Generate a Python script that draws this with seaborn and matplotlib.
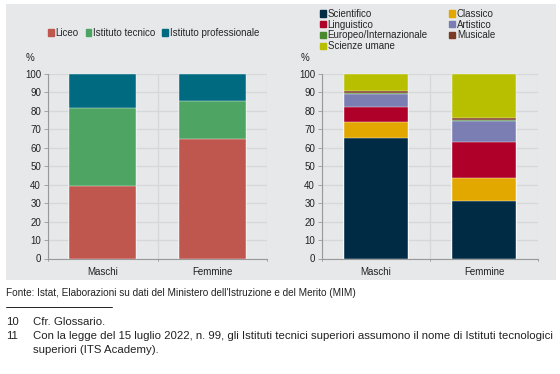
import matplotlib
matplotlib.use('Agg')
import matplotlib.pyplot as plt
import matplotlib.patches as mpatches
from matplotlib.lines import Line2D
import pandas as pd
import seaborn as sns

# data (percent)
genere = ['Maschi', 'Femmine']

tipi_scuola = ['Liceo', 'Istituto tecnico', 'Istituto professionale']
liceo = [39.5, 64.5]
tecnico = [42.3, 20.8]
professionale = [18.2, 14.7]

indirizzi = ['Scientifico', 'Classico', 'Linguistico', 'Artistico',
             'Europeo/Internazionale', 'Musicale', 'Scienze umane']
scientifico = [65.5, 30.9]
classico = [8.6, 12.7]
linguistico = [8.2, 19.6]
artistico = [6.6, 11.1]
europeo = [0.9, 0.9]
musicale = [1.1, 1.1]
scienze_umane = [9.1, 23.7]

col_sx = ['#c0574f', '#4ea462', '#006a80']
col_dx = ['#002b45', '#e3a800', '#ae0028', '#7a7eb2', '#4a8a2e', '#7b3a22', '#b7bf00']

sns.set_style('white')
plt.rcParams['font.family'] = ['Liberation Sans', 'DejaVu Sans']
plt.rcParams['font.size'] = 7

BG = '#e7e8e9'
GRID = '#d6d7d8'

fig = plt.figure(figsize=(5.6, 3.74), dpi=100)
fig.patch.set_facecolor('white')
fig.patches.append(mpatches.Rectangle((6 / 560, 1 - 280 / 374), 550 / 560, 276 / 374,
                                      transform=fig.transFigure, facecolor=BG,
                                      edgecolor='none', zorder=-5))

ax1 = fig.add_axes([48 / 560, 1 - 258.5 / 374, 219 / 560, 184.5 / 374])
ax2 = fig.add_axes([322 / 560, 1 - 258.5 / 374, 216 / 560, 184.5 / 374])


def stacked(ax, serie, nomi, colori, width):
    df = pd.DataFrame(dict(zip(nomi, serie)), index=genere)
    cum = df.cumsum(axis=1)
    # draw from the top layer down so that each bar covers the one beneath
    for nome, c in reversed(list(zip(nomi, colori))):
        sns.barplot(x=genere, y=cum[nome].values, color=c, width=width,
                    saturation=1, edgecolor='white', linewidth=0.3, ax=ax, zorder=3)


stacked(ax1, [liceo, tecnico, professionale], tipi_scuola, col_sx, 0.61)
stacked(ax2, [scientifico, classico, linguistico, artistico, europeo, musicale, scienze_umane],
        indirizzi, col_dx, 0.6)

for ax in (ax1, ax2):
    ax.set_facecolor(BG)
    ax.set_xlim(-0.5, 1.5)
    ax.set_ylim(0, 100)
    ax.set_yticks(range(0, 101, 10))
    ax.set_xticks([0, 1])
    ax.set_xticklabels(genere, fontsize=7, color='#222222')
    ax.tick_params(axis='x', length=0, pad=6)
    ax.tick_params(axis='y', length=3, width=0.6, color='#999999', labelsize=7,
                   labelcolor='#222222', pad=2, left=True)
    ax.grid(axis='y', color=GRID, linewidth=0.9, zorder=0)
    for xv in (-0.5, 0.5, 1.5):
        ax.axvline(xv, color=GRID, linewidth=0.9, zorder=0)
        ax.add_line(Line2D([xv, xv], [0, -1.6], color='#999999', linewidth=0.6,
                           clip_on=False))
    for s in ('top', 'right'):
        ax.spines[s].set_visible(False)
    for s in ('left', 'bottom'):
        ax.spines[s].set_color('#999999')
        ax.spines[s].set_linewidth(0.8)
    ax.set_axisbelow(True)
    ax.text(-0.08, 1.06, '%', transform=ax.transAxes, fontsize=7, color='#222222',
            ha='center', va='bottom')

h1 = [mpatches.Patch(color=c, label=n) for n, c in zip(tipi_scuola, col_sx)]
fig.legend(handles=h1, loc='center left', bbox_to_anchor=(44 / 560, 1 - 33 / 374),
           ncol=3, frameon=False, fontsize=7, handlelength=0.6, handleheight=0.6,
           handletextpad=0.2, columnspacing=0.7, borderaxespad=0)

h2 = [mpatches.Patch(color=c, label=n) for n, c in zip(indirizzi, col_dx)]
order = [0, 2, 4, 6, 1, 3, 5]
fig.legend(handles=[h2[i] for i in order], loc='upper left',
           bbox_to_anchor=(316 / 560, 1 - 5 / 374), ncol=2, frameon=False, fontsize=7,
           handlelength=0.6, handleheight=0.6, handletextpad=0.2, columnspacing=2.2,
           labelspacing=0.08, borderaxespad=0)

FS = 8.2
fig.text(6 / 560, 1 - 293 / 374,
         "Fonte: Istat, Elaborazioni su dati del Ministero dell'Istruzione e del Merito (MIM)",
         fontsize=7.2, color='#222222', va='center')
fig.add_artist(Line2D([6 / 560, 112 / 560], [1 - 307 / 374, 1 - 307 / 374],
                      transform=fig.transFigure, color='#222222', linewidth=0.7))
fig.text(6 / 560, 1 - 322 / 374, '10', fontsize=FS, color='#222222', va='center')
fig.text(33 / 560, 1 - 322 / 374, 'Cfr. Glossario.', fontsize=FS, color='#222222', va='center')
fig.text(6 / 560, 1 - 336 / 374, '11', fontsize=FS, color='#222222', va='center')
fig.text(33 / 560, 1 - 336 / 374,
         'Con la legge del 15 luglio 2022, n. 99, gli Istituti tecnici superiori assumono il nome di Istituti tecnologici',
         fontsize=FS, color='#222222', va='center')
fig.text(33 / 560, 1 - 350 / 374, 'superiori (ITS Academy).', fontsize=FS,
         color='#222222', va='center')

fig.savefig('out.png', dpi=100, facecolor='white')
